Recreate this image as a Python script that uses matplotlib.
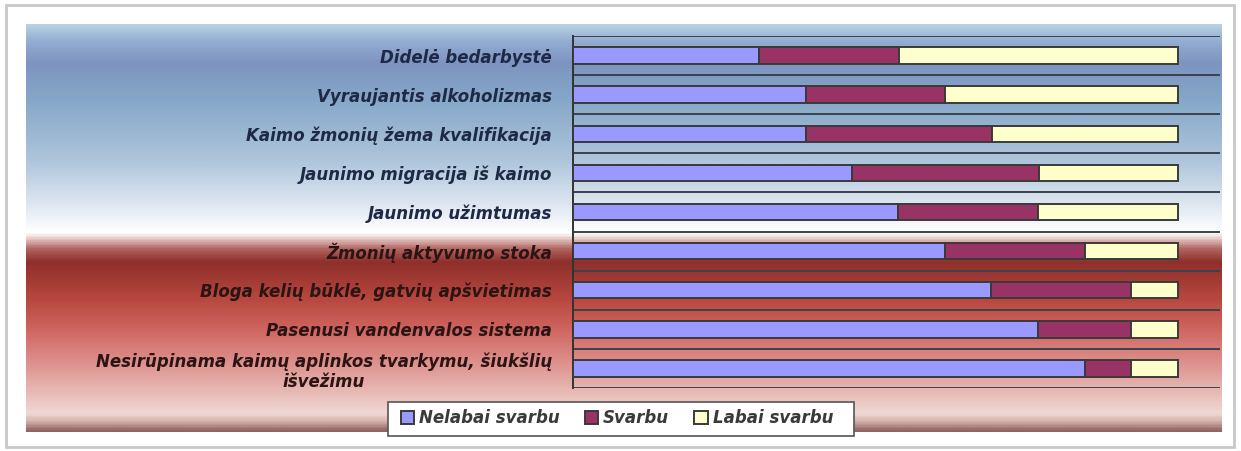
import numpy as np
import matplotlib.pyplot as plt
from matplotlib.colors import LinearSegmentedColormap
from matplotlib.patches import Rectangle

# Problems, top to bottom
categories = [
    "Didelė bedarbystė",
    "Vyraujantis alkoholizmas",
    "Kaimo žmonių žema kvalifikacija",
    "Jaunimo migracija iš kaimo",
    "Jaunimo užimtumas",
    "Žmonių aktyvumo stoka",
    "Bloga kelių būklė, gatvių apšvietimas",
    "Pasenusi vandenvalos sistema",
    "Nesirūpinama kaimų aplinkos tvarkymu, šiukšlių\nišvežimu",
]

# shares in %
nelabai_svarbu = [30.8, 38.5, 38.5, 46.2, 53.8, 61.5, 69.2, 76.9, 84.6]
svarbu = [23.1, 23.1, 30.8, 30.8, 23.1, 23.1, 23.1, 15.4, 7.7]
labai_svarbu = [46.1, 38.4, 30.7, 23.0, 23.1, 15.4, 7.7, 7.7, 7.7]

series_names = ["Nelabai svarbu", "Svarbu", "Labai svarbu"]
series_colors = ["#9999ff", "#993366", "#ffffcc"]

W, H = 1241, 451
fig = plt.figure(figsize=(W / 100, H / 100), dpi=100)
fig.patch.set_facecolor("white")

# background layer in pixel coordinates
bg = fig.add_axes([0, 0, 1, 1])
bg.axis("off")

# outer frame with soft shadow
bg.add_patch(Rectangle((6, 5), 1228, 442, facecolor="white", edgecolor="#c8c8c8", lw=2, zorder=0))

# vertical gradient of the chart area (y pixel, colour)
stops = [
    (24, "#b8d0e4"), (40, "#93add2"), (62, "#7d94c0"), (100, "#86a8c8"),
    (160, "#aec5dc"), (205, "#dfe7f1"), (232, "#ffffff"),
    (236, "#f6e6e4"), (248, "#b46a66"), (262, "#8e2f2c"), (300, "#b8483f"),
    (330, "#cf6560"), (360, "#dc8c88"), (395, "#e8bdb8"), (415, "#f1d9d5"),
    (422, "#d8b4ae"), (432, "#8e6560"),
]
y0, y1 = 24, 432
pos = [(s[0] - y0) / (y1 - y0) for s in stops]
cmap = LinearSegmentedColormap.from_list("bgcm", list(zip(pos, [s[1] for s in stops])))
grad = np.linspace(0, 1, 400).reshape(-1, 1)
bg.imshow(grad, cmap=cmap, aspect="auto", extent=(26, 1222, y1, y0),
          interpolation="bilinear", zorder=1)
bg.set_xlim(0, W)
bg.set_ylim(H, 0)

# chart axes
ax = fig.add_axes([573 / W, 1 - 388 / H, (1220 - 573) / W, (388 - 36) / H])
ax.set_facecolor("none")

y = np.arange(len(categories))
left = np.zeros(len(categories))
for vals, name, col in zip([nelabai_svarbu, svarbu, labai_svarbu], series_names, series_colors):
    ax.barh(y, vals, left=left, height=0.42, color=col, edgecolor="#3a3a3a",
            linewidth=1.4, label=name, zorder=3)
    left += np.array(vals)

ax.set_xlim(0, 107)
ax.set_ylim(len(categories) - 0.5, -0.5)
ax.hlines(np.arange(len(categories) + 1) - 0.5, 0, 107, color="#3a424c", lw=1.4, zorder=1)

for s in ["top", "right", "bottom"]:
    ax.spines[s].set_visible(False)
ax.spines["left"].set_color("#333333")
ax.spines["left"].set_linewidth(1.4)
ax.set_xticks([])
ax.set_yticks(y)
ax.set_yticklabels(categories, fontsize=12, fontweight="bold", style="italic")
ax.tick_params(axis="y", length=0, pad=15)
for i, lab in enumerate(ax.get_yticklabels()):
    lab.set_multialignment("center")
    lab.set_color("#1e2a45" if i < 5 else "#2a1414")

# legend box
bg.add_patch(Rectangle((388, 402), 466, 34, facecolor="white", edgecolor="#555555", lw=1.2, zorder=2))
leg = fig.legend(loc="center", bbox_to_anchor=(617 / W, 1 - 418 / H), ncol=3,
                 frameon=False, fontsize=12, handlelength=0.8, handleheight=0.8,
                 handletextpad=0.3, columnspacing=1.5)
for t in leg.get_texts():
    t.set_fontweight("bold")
    t.set_style("italic")
    t.set_color("#3a3a3a")

fig.savefig("out.png", dpi=100)
